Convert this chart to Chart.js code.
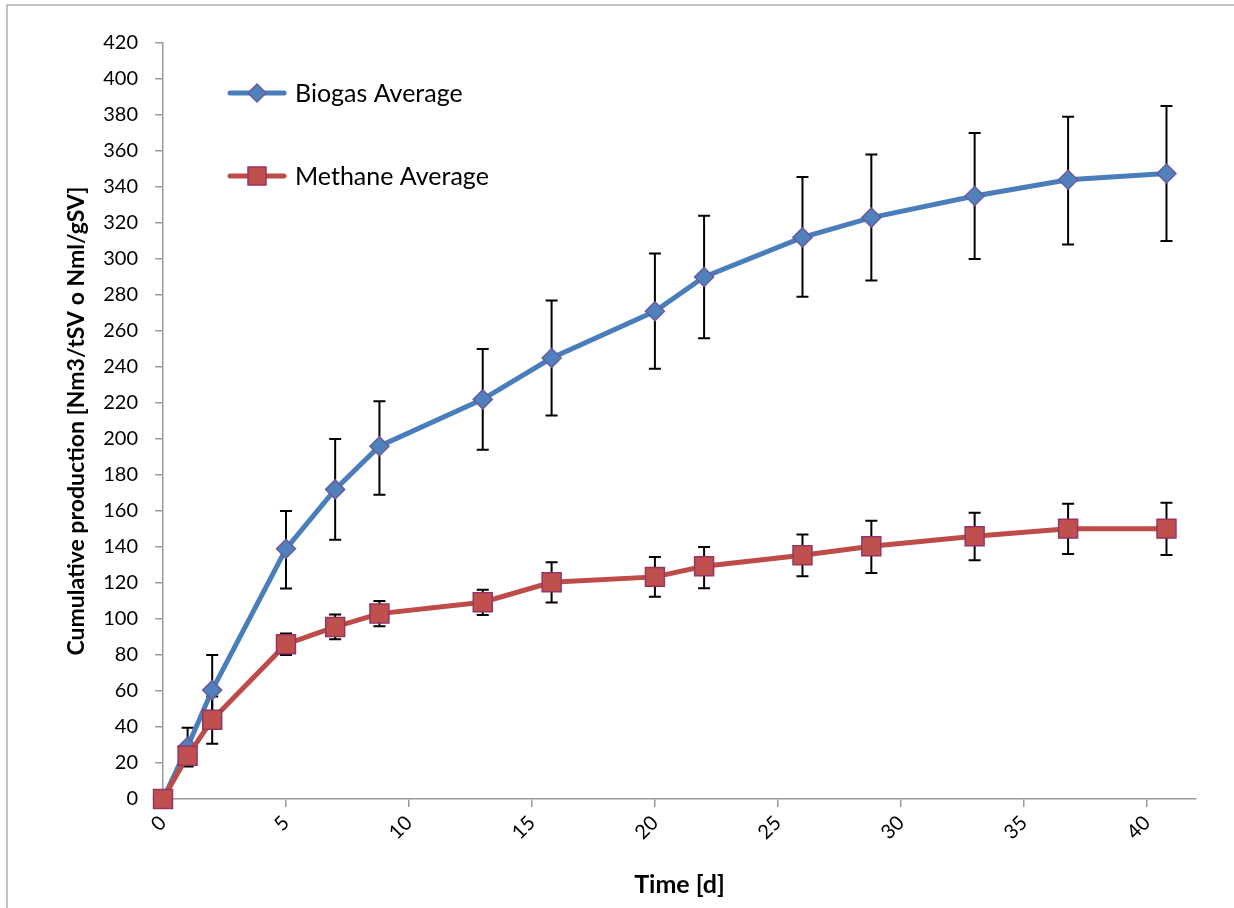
<!DOCTYPE html>
<html>
<head>
<meta charset="utf-8">
<script src="https://cdn.jsdelivr.net/npm/chart.js@4.4.1/dist/chart.umd.min.js"></script>
<style>
  html, body { margin: 0; padding: 0; background: #ffffff; }
  #c { display: block; }
</style>
</head>
<body>
<canvas id="c" width="1234" height="908"></canvas>
<script>
// ---- Data ----
const days      = [0, 1, 2, 5, 7, 8.8, 13, 15.8, 20, 22, 26, 28.8, 33, 36.8, 40.8];
const biogas    = [0, 29, 60.5, 139, 172, 196, 222, 245, 271, 290, 312, 323, 335, 344, 347.5];
const biogasHi  = [0, 39.6, 80, 160, 200, 221, 250, 277, 303, 324, 345.5, 358, 370, 379, 385];
const biogasLo  = [0, 19, 41, 117, 144, 169, 194, 213, 239, 256, 279, 288, 300, 308, 310];
const methane   = [0, 24, 44, 86, 95.6, 103, 109.3, 120.4, 123.4, 129.3, 135.4, 140.4, 146, 150.2, 150.2];
const methaneHi = [0, 30, 57, 92, 102.5, 110, 116.3, 131.5, 134.5, 140, 147, 154.6, 159, 164, 164.6];
const methaneLo = [0, 18, 30.7, 80, 88.8, 96, 102.2, 109.1, 112.3, 117.1, 123.7, 125.6, 132.6, 136.1, 135.5];
const seriesNames = ['Biogas Average', 'Methane Average'];
const xTitle = 'Time [d]';
const yTitle = 'Cumulative production [Nm3/tSV o Nml/gSV]';

const FONT = 'Lato, "Open Sans", "DejaVu Sans", sans-serif';
const AXIS_COLOR = '#9a9a9a';
const BLUE = '#4A7EBB', BLUE_FILL = '#4F81BD', BLUE_EDGE = '#6B5A9C';
const RED = '#BE4B48', RED_FILL = '#C0504D', RED_EDGE = '#953565';

const toXY = (xs, ys) => xs.map((x, i) => ({ x: x, y: ys[i] }));

const errorBars = {
  id: 'errorBars',
  beforeDatasetsDraw(chart) {
    const { ctx, scales: { x, y } } = chart;
    const sets = [[biogasHi, biogasLo], [methaneHi, methaneLo]];
    ctx.save();
    ctx.strokeStyle = '#000000';
    ctx.lineWidth = 2;
    sets.forEach(([hi, lo]) => {
      days.forEach((d, i) => {
        if (hi[i] === lo[i]) return;
        const px = x.getPixelForValue(d);
        const py1 = y.getPixelForValue(hi[i]);
        const py2 = y.getPixelForValue(lo[i]);
        ctx.beginPath();
        ctx.moveTo(px, py1); ctx.lineTo(px, py2);
        ctx.moveTo(px - 6, py1); ctx.lineTo(px + 6, py1);
        ctx.moveTo(px - 6, py2); ctx.lineTo(px + 6, py2);
        ctx.stroke();
      });
    });
    ctx.restore();
  }
};

const frame = {
  id: 'frame',
  beforeDraw(chart) {
    const { ctx, width, height } = chart;
    ctx.save();
    ctx.fillStyle = '#ffffff';
    ctx.fillRect(0, 0, width, height);
    ctx.strokeStyle = '#b0b0b0';
    ctx.lineWidth = 1.5;
    ctx.beginPath();
    ctx.moveTo(7, height); ctx.lineTo(7, 5); ctx.lineTo(width, 5);
    ctx.stroke();
    ctx.restore();
  }
};

const legendBox = {
  id: 'legendBox',
  afterDraw(chart) {
    const { ctx } = chart;
    const rows = [
      { y: 93, color: BLUE, fill: BLUE_FILL, edge: BLUE_EDGE, shape: 'diamond', text: seriesNames[0] },
      { y: 176, color: RED, fill: RED_FILL, edge: RED_EDGE, shape: 'square', text: seriesNames[1] }
    ];
    ctx.save();
    rows.forEach(r => {
      ctx.strokeStyle = r.color;
      ctx.lineWidth = 5;
      ctx.lineCap = 'round';
      ctx.beginPath();
      ctx.moveTo(230, r.y); ctx.lineTo(284, r.y);
      ctx.stroke();
      ctx.lineCap = 'butt';
      ctx.fillStyle = r.fill;
      ctx.strokeStyle = r.edge;
      ctx.lineWidth = 1.5;
      ctx.beginPath();
      if (r.shape === 'diamond') {
        ctx.moveTo(257 - 9, r.y); ctx.lineTo(257, r.y - 9); ctx.lineTo(257 + 9, r.y); ctx.lineTo(257, r.y + 9);
        ctx.closePath();
      } else {
        ctx.rect(257 - 9, r.y - 9, 18, 18);
      }
      ctx.fill(); ctx.stroke();
      ctx.fillStyle = '#000000';
      ctx.font = '25px ' + FONT;
      ctx.textBaseline = 'middle';
      ctx.textAlign = 'left';
      ctx.fillText(r.text, 295, r.y + 1);
    });
    ctx.restore();
  }
};

new Chart(document.getElementById('c'), {
  type: 'line',
  data: {
    datasets: [
      {
        label: seriesNames[1],
        data: toXY(days, methane),
        order: 0,
        clip: false,
        borderColor: RED,
        borderWidth: 5,
        pointStyle: 'rect',
        pointRadius: 13.4,
        pointBackgroundColor: RED_FILL,
        pointBorderColor: RED_EDGE,
        pointBorderWidth: 1.5,
        tension: 0
      },
      {
        label: seriesNames[0],
        data: toXY(days, biogas),
        order: 1,
        clip: false,
        borderColor: BLUE,
        borderWidth: 5,
        pointStyle: 'rectRot',
        pointRadius: 9.5,
        pointBackgroundColor: BLUE_FILL,
        pointBorderColor: BLUE_EDGE,
        pointBorderWidth: 1.5,
        tension: 0
      }
    ]
  },
  options: {
    responsive: false,
    animation: false,
    devicePixelRatio: 1,
    layout: { padding: { top: 43, right: 38, left: 0, bottom: 0 } },
    plugins: {
      legend: { display: false },
      tooltip: { enabled: false }
    },
    scales: {
      x: {
        type: 'linear',
        min: 0,
        max: 42,
        ticks: {
          stepSize: 5,
          minRotation: 45,
          maxRotation: 45,
          padding: 4,
          color: '#000000',
          font: { family: FONT, size: 20 }
        },
        afterBuildTicks(scale) {
          scale.ticks = scale.ticks.filter(t => t.value % 5 === 0);
        },
        afterFit(scale) { scale.height = 109; },
        grid: { display: true, drawOnChartArea: false, drawTicks: true, tickLength: 8, color: AXIS_COLOR, lineWidth: 1.5 },
        border: { display: true, color: AXIS_COLOR, width: 1.5 },
        title: {
          display: true,
          text: xTitle,
          color: '#000000',
          font: { family: FONT, size: 25, weight: 'bold' },
          padding: { top: 0, bottom: 8 }
        }
      },
      y: {
        type: 'linear',
        min: 0,
        max: 420,
        ticks: {
          stepSize: 20,
          padding: 17,
          color: '#000000',
          font: { family: FONT, size: 20 }
        },
        afterFit(scale) { scale.width = 163; },
        grid: { display: true, drawOnChartArea: false, drawTicks: true, tickLength: 8, color: AXIS_COLOR, lineWidth: 1.5 },
        border: { display: true, color: AXIS_COLOR, width: 1.5 },
        title: {
          display: true,
          text: yTitle,
          color: '#000000',
          font: { family: FONT, size: 23, weight: 'bold' },
          padding: { top: 63, bottom: 0 }
        }
      }
    }
  },
  plugins: [frame, errorBars, legendBox]
});
</script>
</body>
</html>
